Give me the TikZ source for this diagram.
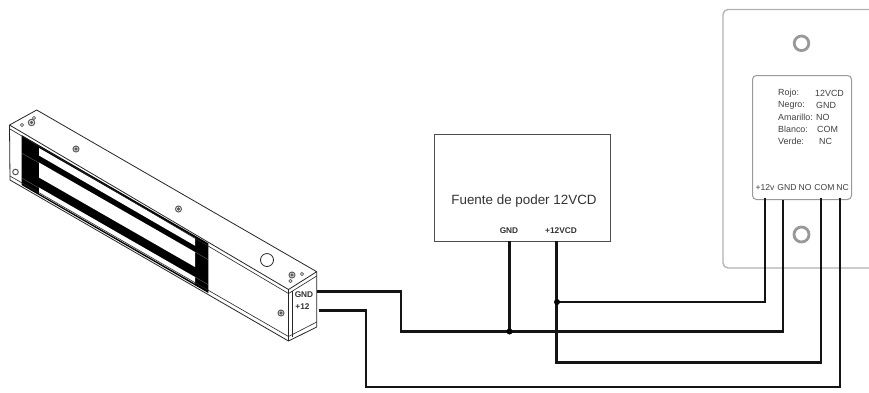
\documentclass[tikz,border=0pt]{standalone}
\usepackage{fontspec}
\setmainfont{Liberation Sans}
\tikzset{
  x=1pt,y=-1pt,
  wire/.style={line width=2.1pt,black!92,line join=miter},
  junction/.style={circle,fill=black,inner sep=0pt,minimum size=6pt},
  plate/.style={draw=black!30,line width=1.3pt},
  outline/.style={draw=black!85,line width=0.8pt,line join=round},
  screw/.style={draw=black!65,line width=1pt,fill=white},
  pin/.style={font=\fontsize{8.6}{10}\selectfont,text=black!75,inner sep=0pt},
  small/.style={font=\bfseries\fontsize{8.3}{9}\selectfont,text=black!80,inner sep=0pt},
  info/.style={font=\fontsize{8.9}{10}\selectfont,text=black!75,inner sep=0pt,anchor=west},
}
\begin{document}
\begin{tikzpicture}
\useasboundingbox (0,0) rectangle (869,392);
\fill[white] (0,0) rectangle (869,392);
% reader plate
\draw[plate,rounded corners=5pt] (869,9.5) -- (723,9.5) -- (723,268) -- (869,268);
\draw[draw=black!40,line width=2.8pt] (801.5,43.3) circle (7.3);
\draw[draw=black!40,line width=2.8pt] (801.5,234.5) circle (7.5);
\node[draw=black!40,line width=1pt,fill=white,rounded corners=4pt,minimum width=99pt,minimum height=124pt,inner sep=0pt,anchor=north west] (reader) at (752,75) {};
\node[info] at (778,93) {Rojo:};
\node[info] at (778,105) {Negro:};
\node[info] at (778,117.5) {Amarillo:};
\node[info] at (778,129.5) {Blanco:};
\node[info] at (778,141.5) {Verde:};
\node[info] at (815,93) {12VCD};
\node[info] at (816,105) {GND};
\node[info] at (816,117.5) {NO};
\node[info] at (817,129.5) {COM};
\node[info] at (819,141.5) {NC};
\node[pin] (p12) at (765,187.5) {+12v};
\node[pin] (pgnd) at (787,187.5) {GND};
\node[pin] (pno) at (805,187.5) {NO};
\node[pin] (pcom) at (824.5,187.5) {COM};
\node[pin] (pnc) at (842.5,187.5) {NC};
\coordinate (t12) at (765,198);
\coordinate (tgnd) at (782.7,200);
\coordinate (tcom) at (821.3,198);
\coordinate (tnc) at (840.3,198);
% power supply
\node[draw=black!70,line width=1pt,minimum width=176pt,minimum height=107pt,inner sep=0pt,anchor=north west] (psu) at (433.5,134) {};
\node[inner sep=0pt,text=black!80,font=\fontsize{13.4}{15}\selectfont] (psutext) at (524,201) {Fuente de poder 12VCD};
\node[small] (psugnd) at (509,231) {GND};
\node[small] (psu12) at (561,231) {+12VCD};
\coordinate (sgnd) at (509.5,241);
\coordinate (s12) at (556.5,241);
% magnet
\coordinate (a) at (9.5,125);
\coordinate (b) at (36.7,110);
\coordinate (c) at (316.7,271.7);
\coordinate (d) at (288.5,289.5);
\coordinate (e) at (10,180);
\coordinate (f) at (288.5,341);
\coordinate (g) at (316.7,327);
\fill[black] (21.5,135) -- (208.3,243.3) -- (208.3,293) -- (21.5,185) -- cycle;
\fill[white] (39,148) -- (195,238) -- (195,245.7) -- (39,155.5) -- cycle;
\fill[white] (39,162.5) -- (195,252) -- (195,267) -- (39,177.5) -- cycle;
\fill[white] (39,187.5) -- (195,277) -- (195,283.5) -- (39,193.5) -- cycle;
\draw[black!55,line width=0.3pt] (21.5,153) -- (39,163) (21.5,178) -- (39,188) (195,252) -- (208,259.5) (195,277) -- (208,284.5);
\draw[outline] (a) -- (b) -- (c) -- (d) -- cycle;
\draw[outline] (a) -- (e) -- (f) -- (g) -- (c);
\draw[outline] (d) -- (f);
\draw[outline,line width=0.6pt] (10,129) -- (288.5,293.5) -- (316.7,276);
\draw[outline,line width=0.6pt] (10,176) -- (288.5,336.5) -- (316.7,322);
\draw[outline,line width=0.6pt] (292,291) -- (292,337);
\draw[screw] (15.5,172) circle (2.8);
\draw[screw] (31.5,122.5) circle (3.2);
\draw[screw] (31.5,122.5) circle (1.2);
\draw[screw,line width=0.6pt] (22,125) circle (1.6);
\draw[screw,line width=0.6pt] (34,118) circle (1.6);
\draw[screw] (76,149) circle (3);
\draw[screw] (76,149) circle (1.2);
\draw[screw] (178.5,209) circle (3);
\draw[screw] (178.5,209) circle (1.2);
\draw[outline] (267,260) circle (6.5);
\draw[screw] (292,275) circle (3);
\draw[screw] (292,275) circle (1.2);
\draw[screw,line width=0.6pt] (302,274) circle (1.6);
\draw[screw,line width=0.6pt] (290.5,281) circle (1.6);
\draw[screw] (281,313) circle (3);
\draw[screw] (281,313) circle (1.2);
\node[small] (mgnd) at (304,295) {GND};
\node[small] (mp12) at (302.5,307) {+12};
\coordinate (mg) at (316.7,291.5);
\coordinate (mp) at (318.5,310.5);
% wires
\coordinate (j1) at (509.5,331.5);
\coordinate (j2) at (557,302);
\draw[wire] (mg) -- (401,291.5) -- (401,331.5) -- (j1) -- (782.7,331.5) -- (tgnd);
\draw[wire] (mp) -- (366,310.5) -- (366,387) -- (840.3,387) -- (tnc);
\draw[wire] (sgnd) -- (j1);
\draw[wire] (s12) -- (556.5,362.5) -- (821.3,362.5) -- (tcom);
\draw[wire] (j2) -- (765,302) -- (t12);
\node[junction] (dot1) at (j1) {};
\node[junction] (dot2) at (j2) {};
\end{tikzpicture}
\end{document}
